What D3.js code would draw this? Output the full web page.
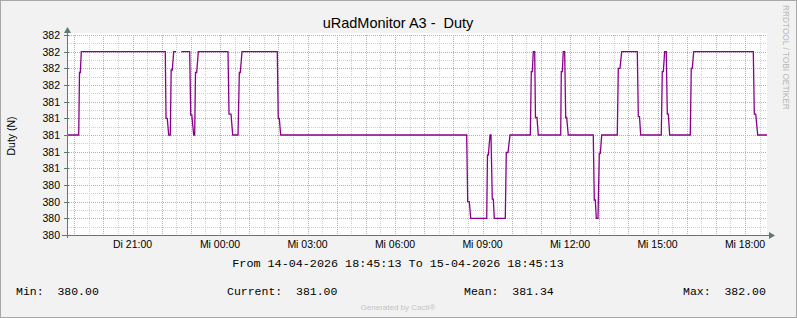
<!DOCTYPE html>
<html>
<head>
<meta charset="utf-8">
<script src="https://cdn.jsdelivr.net/npm/d3@7"></script>
<style>
  body { margin: 0; background: #fff; }
  svg { display: block; }
  text { font-family: "Liberation Sans", Arial, sans-serif; white-space: pre; }
  .mono { font-family: "Liberation Mono", "Courier New", monospace; }
</style>
</head>
<body>
<div id="chart"></div>
<script>
"use strict";

var W = 797, H = 318;
var LEFT = 67, RIGHT = 767, TOP = 35, BOTTOM = 235;

var TITLE = "uRadMonitor A3 -  Duty";
var Y_TITLE = "Duty (N)";
var DATE_LINE = "From 14-04-2026 18:45:13 To 15-04-2026 18:45:13";
var START = Date.UTC(2026, 3, 14, 18, 45, 13);
var END = Date.UTC(2026, 3, 15, 18, 45, 13);
var DAY_NAMES = ["So", "Mo", "Di", "Mi", "Do", "Fr", "Sa"];

// y axis ticks (labels are rounded by rrdtool)
var yTicks = [379.8, 380, 380.2, 380.4, 380.6, 380.8, 381, 381.2, 381.4, 381.6, 381.8, 382, 382.2];
var yMinor = [379.9, 380.1, 380.3, 380.5, 380.7, 380.9, 381.1, 381.3, 381.5, 381.7, 381.9, 382.1];

// minutes after start, duty value (null = no data)
var minutes = [0, 24.1, 25.7, 27.4, 29.4, 202.2, 203.7, 206.3, 209.2, 212.5, 214.3, 216.6, 219.5, 224.2,
    229, 235.1, 252.4, 254.5, 256.7, 260.6, 262.7, 264.3, 266.8, 270.1, 331.2, 333.3, 337.4, 340.9,
    351.8, 354.5, 356.5, 360, 432.6, 434.6, 436.7, 439.6, 822.2, 824.3, 827.6, 830.5, 863.4, 865.0,
    866.7, 870.2, 872.2, 874.9, 877.0, 879.0, 901.6, 903.7, 907.2, 911.3, 953.1, 955.1, 957.2, 959.2,
    962.1, 963.7, 966.8, 969.5, 1015.6, 1016.8, 1018.9, 1020.9, 1023.8, 1025.9, 1027.9, 1031.2,
    1082.6, 1084.7, 1086.8, 1088.8, 1092.3, 1095.0, 1097.1, 1100.0, 1132.0, 1134.1, 1137.6, 1141.1,
    1173.2, 1175.3, 1177.7, 1180.2, 1222.5, 1224.6, 1226.7, 1229.5, 1232.8, 1234.9, 1237.0, 1239.8,
    1282.2, 1284.2, 1286.3, 1289.2, 1411.8, 1413.9, 1416.8, 1420.9, 1440];
var duty = [381, 381, 381.75, 381.75, 382, 382, 381.2, 381.2, 381, 381, 381.78, 381.78, 382, 382,
    null, 382, 382, 381.24, 381.24, 381, 381, 381.75, 381.75, 382, 382, 381.25, 381.25, 381,
    381, 381.75, 381.75, 382, 382, 381.2, 381.2, 381, 381, 380.2, 380.2, 380, 380, 380.76,
    380.76, 381, 381, 380.23, 380.23, 380, 380, 380.79, 380.79, 381, 381, 381.76, 381.76, 382,
    382, 381.21, 381.21, 381, 381, 381.76, 381.76, 382, 382, 381.21, 381.21, 381,
    381, 380.22, 380.22, 380, 380, 380.78, 380.78, 381, 381, 381.8, 381.8, 382,
    382, 381.22, 381.22, 381, 381, 381.76, 381.76, 382, 382, 381.25, 381.25, 381,
    381, 381.8, 381.8, 382, 382, 381.25, 381.25, 381, 381];

var legendLabels = ["Min:", "Current:", "Mean:", "Max:"];
var legendValues = [380.00, 381.00, 381.34, 382.00];
var legendX = [16, 227, 464, 683];

var AXIS_COLOR = "#5b7a73";
var MAJOR_COLOR = "#ec9a9a";
var MINOR_COLOR = "#cfcfcf";
var LINE_COLOR = "#8b008b";

var svg = d3.select("#chart").append("svg")
    .attr("width", W)
    .attr("height", H);

// canvas + border
svg.append("rect").attr("x", 0.5).attr("y", 0.5).attr("width", W - 1).attr("height", H - 1)
    .attr("fill", "#f2f2f2").attr("stroke", "#a8a8a8");

// plot background
svg.append("rect").attr("x", LEFT).attr("y", TOP - 2).attr("width", RIGHT - LEFT).attr("height", BOTTOM - TOP + 2)
    .attr("fill", "#ffffff");

var x = d3.scaleUtc().domain([START, END]).range([LEFT, RIGHT]);
var y = d3.scaleLinear().domain([379.8, 382.2]).range([BOTTOM, TOP]);

var grid = svg.append("g").attr("shape-rendering", "crispEdges");

function vline(d, color) {
    grid.append("line").attr("x1", Math.round(x(d)) + 0.5).attr("x2", Math.round(x(d)) + 0.5)
        .attr("y1", TOP).attr("y2", BOTTOM + 2)
        .attr("stroke", color).attr("stroke-dasharray", "1,1");
}

function hline(v, color) {
    grid.append("line").attr("x1", LEFT).attr("x2", RIGHT)
        .attr("y1", Math.round(y(v)) + 0.5).attr("y2", Math.round(y(v)) + 0.5)
        .attr("stroke", color).attr("stroke-dasharray", "1,1");
}

// minor grid
x.ticks(d3.utcMinute.every(30))
    .filter(function (d) { return d.getUTCMinutes() == 30; })
    .forEach(function (d) { vline(d, MINOR_COLOR); });
yMinor.forEach(function (v) { hline(v, MINOR_COLOR); });

// major grid
x.ticks(d3.utcHour.every(1)).forEach(function (d) { vline(d, MAJOR_COLOR); });
yTicks.forEach(function (v) { hline(v, MAJOR_COLOR); });

// data line
var points = minutes.map(function (m, i) {
    return { t: new Date(START + m * 60000), v: duty[i] };
});
var line = d3.line()
    .defined(function (d) { return d.v != null; })
    .x(function (d) { return x(d.t); })
    .y(function (d) { return y(d.v); });
svg.append("path")
    .attr("d", line(points))
    .attr("fill", "none")
    .attr("stroke", LINE_COLOR)
    .attr("stroke-width", 1.3);

// axes
var axes = svg.append("g").attr("shape-rendering", "crispEdges");
axes.append("line").attr("x1", LEFT - 5).attr("x2", RIGHT + 3).attr("y1", BOTTOM + 0.5).attr("y2", BOTTOM + 0.5)
    .attr("stroke", AXIS_COLOR);
axes.append("line").attr("x1", LEFT + 0.5).attr("x2", LEFT + 0.5).attr("y1", BOTTOM + 3).attr("y2", TOP - 3)
    .attr("stroke", AXIS_COLOR);
yTicks.forEach(function (v) {
    axes.append("line").attr("x1", LEFT - 3).attr("x2", LEFT + 2)
        .attr("y1", Math.round(y(v)) + 0.5).attr("y2", Math.round(y(v)) + 0.5)
        .attr("stroke", AXIS_COLOR);
});
// arrow heads
svg.append("path")
    .attr("d", "M" + (LEFT + 0.5) + "," + (TOP - 8) + "L" + (LEFT + 4) + "," + (TOP - 2) + "L" + (LEFT - 3) + "," + (TOP - 2) + "Z")
    .attr("fill", AXIS_COLOR);
svg.append("path")
    .attr("d", "M" + (RIGHT + 8) + "," + (BOTTOM + 0.5) + "L" + (RIGHT + 2) + "," + (BOTTOM - 3) + "L" + (RIGHT + 2) + "," + (BOTTOM + 4) + "Z")
    .attr("fill", AXIS_COLOR);

// y labels
yTicks.forEach(function (v) {
    svg.append("text")
        .attr("x", 60)
        .attr("y", y(v) + 4)
        .attr("text-anchor", "end")
        .style("font-size", "10.5px")
        .attr("fill", "#000")
        .text(d3.format(".0f")(v));
});

// x labels
x.ticks(d3.utcHour.every(3)).forEach(function (d) {
    svg.append("text")
        .attr("x", x(d))
        .attr("y", 248)
        .attr("text-anchor", "middle")
        .style("font-size", "10.5px")
        .attr("fill", "#000")
        .text(DAY_NAMES[d.getUTCDay()] + " " + d3.utcFormat("%H:%M")(d));
});

// title
svg.append("text")
    .attr("x", 398).attr("y", 28)
    .attr("text-anchor", "middle")
    .style("font-size", "14.5px")
    .attr("fill", "#000")
    .text(TITLE);

// y title
svg.append("text")
    .attr("transform", "translate(15,136) rotate(-90)")
    .attr("text-anchor", "middle")
    .style("font-size", "10.5px")
    .attr("fill", "#000")
    .text(Y_TITLE);

// date range
svg.append("text")
    .attr("class", "mono")
    .attr("x", 398).attr("y", 267)
    .attr("text-anchor", "middle")
    .style("font-size", "11.75px")
    .attr("fill", "#000")
    .text(DATE_LINE);

// legend
legendLabels.forEach(function (label, i) {
    svg.append("text")
        .attr("class", "mono")
        .attr("x", legendX[i]).attr("y", 295)
        .style("font-size", "11.5px")
        .attr("fill", "#000")
        .text(label + "  " + d3.format(".2f")(legendValues[i]));
});

// footer
svg.append("text")
    .attr("x", 398).attr("y", 310)
    .attr("text-anchor", "middle")
    .style("font-size", "8px")
    .attr("fill", "#c4c4c4")
    .text("Generated by Cacti®");

// watermark
svg.append("text")
    .attr("transform", "translate(783,5) rotate(90)")
    .style("font-size", "8.3px")
    .attr("fill", "#b8b8b8")
    .text("RRDTOOL / TOBI OETIKER");
</script>
</body>
</html>
